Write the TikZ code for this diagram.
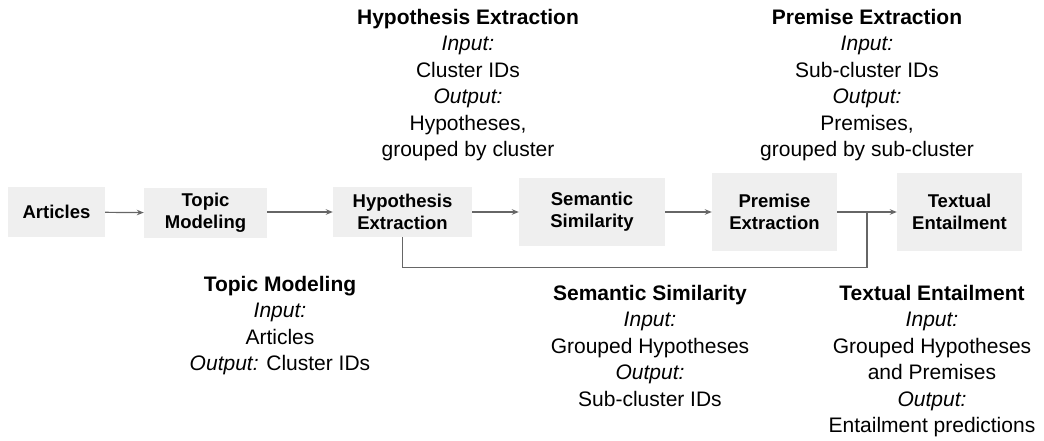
\documentclass[tikz,border=0pt]{standalone}
\usepackage{fontspec}
\setmainfont{Liberation Sans}
\usepackage{tikz}
\usetikzlibrary{arrows.meta}
\definecolor{boxgray}{HTML}{EFEFEF}
\definecolor{linegray}{HTML}{666666}

\begin{document}
\begin{tikzpicture}[x=1pt, y=-1pt,
        stage/.style={fill=boxgray, draw=none, align=center, inner sep=0pt, font=\fontsize{18.5}{22}\selectfont\bfseries},
        info/.style={align=center, anchor=north, inner sep=0pt, font=\fontsize{21}{26.4}\selectfont},
        flow/.style={draw=linegray, line width=1.2pt, -{Stealth[length=7pt, width=5.5pt]}}]
        \def\rowy{212}
        \useasboundingbox (0,0) rectangle (1044,441);
        \node[stage, minimum width=97pt, minimum height=50pt] (art) at (56.5,\rowy) {Articles};
        \node[stage, minimum width=123pt, minimum height=50pt] (topic) at (205.5,213) {Topic\\Modeling};
        \node[stage, minimum width=139pt, minimum height=50pt] (hyp) at (402.5,\rowy) {Hypothesis\\Extraction};
        \node[stage, minimum width=146pt, minimum height=68pt] (sem) at (592,\rowy) {Semantic\\Similarity};
        \node[stage, minimum width=125pt, minimum height=78pt] (prem) at (774.5,\rowy) {Premise\\Extraction};
        \node[stage, minimum width=125pt, minimum height=78pt] (ent) at (959.5,\rowy) {Textual\\Entailment};
        \coordinate (join) at (867,\rowy);
        \draw[flow] (art) -- (topic);
        \draw[flow] (topic.east |- hyp.west) -- (hyp.west);
        \draw[flow] (hyp) -- (sem);
        \draw[flow] (sem) -- (prem);
        \draw[flow] (prem) -- (ent);
        \draw[draw=linegray, line width=1.2pt] (hyp.south) -- ++(0,30) -| (join);
        % input / output notes
        \node[info] (hypinfo) at (468,9) {\textbf{Hypothesis Extraction}\\\textit{Input:}\\Cluster IDs\\\textit{Output:}\\Hypotheses,\\grouped by cluster};
        \node[info] (preminfo) at (867,9) {\textbf{Premise Extraction}\\\textit{Input:}\\Sub-cluster IDs\\\textit{Output:}\\Premises,\\grouped by sub-cluster};
        \node[info] (topicinfo) at (280,276) {\textbf{Topic Modeling}\\\textit{Input:}\\Articles\\\textit{Output:} Cluster IDs};
        \node[info] (seminfo) at (650,285) {\textbf{Semantic Similarity}\\\textit{Input:}\\Grouped Hypotheses\\\textit{Output:}\\Sub-cluster IDs};
        \node[info] (entinfo) at (932,285) {\textbf{Textual Entailment}\\\textit{Input:}\\Grouped Hypotheses\\and Premises\\\textit{Output:}\\Entailment predictions};
    \end{tikzpicture}
\end{document}
